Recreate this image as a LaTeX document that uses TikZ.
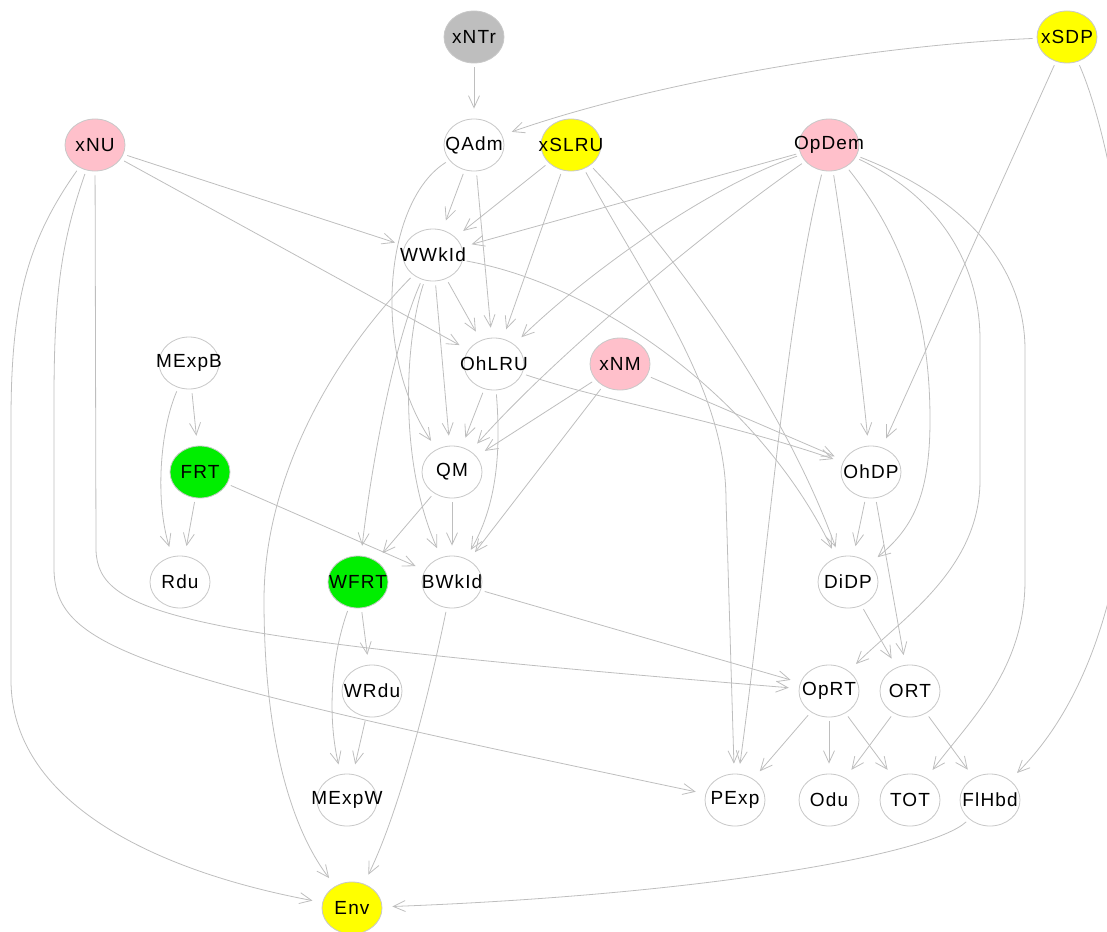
\documentclass[tikz,border=0pt]{standalone}
\usepackage{fontspec}
\setmainfont{Liberation Sans}
\newfontfamily\labfont[LetterSpace=6]{Liberation Sans}
\usetikzlibrary{shapes.geometric,arrows.meta,backgrounds}
\definecolor{edgegray}{RGB}{190,190,190}
\definecolor{rimgray}{RGB}{200,200,200}
\definecolor{vpink}{HTML}{FFC0CB}
\definecolor{vyellow}{HTML}{FFFF00}
\definecolor{vgreen}{HTML}{00EE00}
\definecolor{vgray}{HTML}{BEBEBE}
\newcommand\lbl[1]{\makebox[0pt]{#1}}
\begin{document}
\begin{tikzpicture}[x=1pt,y=-1pt,
  vx/.style={ellipse, draw=rimgray, line width=0.8pt, fill=white,
    minimum width=60pt, minimum height=52pt, inner sep=0pt,
    font=\labfont\fontsize{19}{20}\selectfont},
  e/.style={draw=edgegray, line width=0.8pt,
    -{Straight Barb[length=12pt,width=11pt,line width=0.8pt]},
    shorten >=10pt, shorten <=4pt}]
\useasboundingbox (0,0) rectangle (1107,931);
\clip (0,0) rectangle (1107,931);

% ---- nodes
\node[vx, fill=vgray]   (xNTr)  at (474,37)  {\lbl{xNTr}};
\node[vx, fill=vyellow] (xSDP)  at (1067,37) {\lbl{xSDP}};
\node[vx, fill=vpink]   (xNU)   at (95,145)  {\lbl{xNU}};
\node[vx]               (QAdm)  at (474,145) {\lbl{QAdm}};
\node[vx, fill=vyellow] (xSLRU) at (571,145) {\lbl{xSLRU}};
\node[vx, fill=vpink]   (OpDem) at (829,145) {\lbl{OpDem}};
\node[vx]               (WWkId) at (433,255) {\lbl{WWkId}};
\node[vx]               (MExpB) at (189,363) {\lbl{MExpB}};
\node[vx]               (OhLRU) at (494,364) {\lbl{OhLRU}};
\node[vx, fill=vpink]   (xNM)   at (620,364) {\lbl{xNM}};
\node[vx, fill=vgreen]  (FRT)   at (200,472) {\lbl{FRT}};
\node[vx]               (QM)    at (452,472) {\lbl{QM}};
\node[vx]               (OhDP)  at (871,472) {\lbl{OhDP}};
\node[vx]               (Rdu)   at (180,582) {\lbl{Rdu}};
\node[vx, fill=vgreen]  (WFRT)  at (358,582) {\lbl{WFRT}};
\node[vx]               (BWkId) at (452,582) {\lbl{BWkId}};
\node[vx]               (DiDP)  at (848,582) {\lbl{DiDP}};
\node[vx]               (WRdu)  at (372,691) {\lbl{WRdu}};
\node[vx]               (OpRT)  at (829,691) {\lbl{OpRT}};
\node[vx]               (ORT)   at (910,691) {\lbl{ORT}};
\node[vx]               (MExpW) at (347,800) {\lbl{MExpW}};
\node[vx]               (PExp)  at (735,800) {\lbl{PExp}};
\node[vx]               (Odu)   at (829,800) {\lbl{Odu}};
\node[vx]               (TOT)   at (910,800) {\lbl{TOT}};
\node[vx]               (FlHbd) at (990,800) {\lbl{FlHbd}};
\node[vx, fill=vyellow] (Env)   at (352,908) {\lbl{Env}};

% ---- connectors, kept behind the nodes
\begin{pgfonlayer}{background}
% sources at the top
\draw[e] (xNTr) -- (QAdm);
\draw[e] (xSDP) .. controls (880,45) and (660,80) .. (QAdm);
\draw[e] (xSDP) -- (OhDP);
\draw[e] (xSDP) .. controls (1130,180) and (1190,600) .. (FlHbd);

\draw[e] (xNU) -- (WWkId);
\draw[e] (xNU) -- (OhLRU);
\draw[e] (xNU) -- (96,550) .. controls (98,615) and (180,638) .. (OpRT);
\draw[e] (xNU) .. controls (62,240) and (54,290) .. (54,400) -- (54,570)
               .. controls (56,650) and (140,675) .. (PExp);
\draw[e] (xNU) .. controls (28,240) and (11,300) .. (11,420) -- (11,680)
               .. controls (11,800) and (150,870) .. (Env);

\draw[e] (QAdm) -- (WWkId);
\draw[e] (QAdm) -- (OhLRU);
\draw[e] (QAdm) .. controls (385,200) and (370,350) .. (QM);

\draw[e] (xSLRU) -- (WWkId);
\draw[e] (xSLRU) -- (OhLRU);
\draw[e] (xSLRU) .. controls (650,290) and (726,390) .. (726,500) -- (PExp);
\draw[e] (xSLRU) .. controls (690,270) and (790,420) .. (DiDP);

\draw[e] (OpDem) -- (WWkId);
\draw[e] (OpDem) .. controls (700,190) and (580,280) .. (OhLRU);
\draw[e] (OpDem) .. controls (720,220) and (560,350) .. (QM);
\draw[e] (OpDem) .. controls (785,320) and (768,560) .. (PExp);
\draw[e] (OpDem) .. controls (850,280) and (862,380) .. (OhDP);
\draw[e] (OpDem) .. controls (905,240) and (930,320) .. (930,420)
                 .. controls (930,500) and (910,530) .. (DiDP);
\draw[e] (OpDem) .. controls (945,200) and (980,270) .. (980,340) -- (980,480)
                 .. controls (980,570) and (900,620) .. (OpRT);
\draw[e] (OpDem) .. controls (970,200) and (1025,270) .. (1025,350) -- (1025,580)
                 .. controls (1025,670) and (970,720) .. (TOT);

% middle layers
\draw[e] (WWkId) -- (OhLRU);
\draw[e] (WWkId) -- (QM);
\draw[e] (WWkId) .. controls (405,340) and (398,460) .. (BWkId);
\draw[e] (WWkId) .. controls (395,340) and (372,460) .. (WFRT);
\draw[e] (WWkId) .. controls (330,360) and (264,480) .. (264,600)
                 .. controls (264,760) and (300,840) .. (Env);
\draw[e] (WWkId) .. controls (600,285) and (760,400) .. (DiDP);

\draw[e] (MExpB) -- (FRT);
\draw[e] (MExpB) .. controls (160,430) and (155,500) .. (Rdu);
\draw[e] (FRT) -- (Rdu);
\draw[e] (FRT) -- (BWkId);

\draw[e] (OhLRU) -- (QM);
\draw[e] (OhLRU) .. controls (500,440) and (500,500) .. (BWkId);
\draw[e] (OhLRU) .. controls (600,400) and (720,420) .. (OhDP);

\draw[e] (xNM) -- (QM);
\draw[e] (xNM) -- (BWkId);
\draw[e] (xNM) -- (OhDP);

\draw[e] (QM) -- (WFRT);
\draw[e] (QM) -- (BWkId);

\draw[e] (OhDP) -- (DiDP);
\draw[e] (OhDP) -- (ORT);
\draw[e] (DiDP) -- (ORT);

\draw[e] (WFRT) -- (WRdu);
\draw[e] (WFRT) .. controls (330,660) and (328,720) .. (MExpW);
\draw[e] (WRdu) -- (MExpW);

\draw[e] (BWkId) -- (OpRT);
\draw[e] (BWkId) .. controls (430,690) and (400,810) .. (Env);

% bottom layer
\draw[e] (OpRT) -- (PExp);
\draw[e] (OpRT) -- (Odu);
\draw[e] (OpRT) -- (TOT);
\draw[e] (ORT) -- (Odu);
\draw[e] (ORT) -- (FlHbd);
\draw[e] (FlHbd) .. controls (930,855) and (700,895) .. (Env);
\end{pgfonlayer}
\end{tikzpicture}
\end{document}
